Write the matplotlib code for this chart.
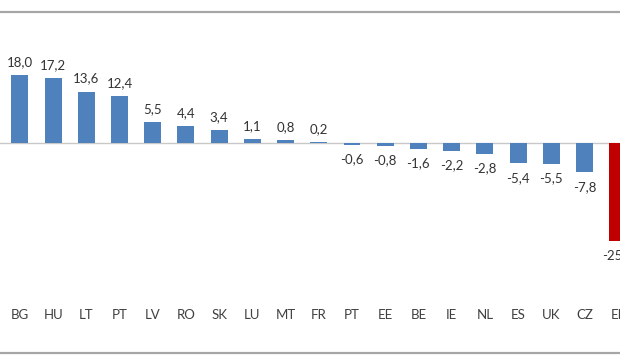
import matplotlib
matplotlib.use("Agg")
import matplotlib.pyplot as plt
from matplotlib.lines import Line2D

# country codes and change values
countries = ["BG", "HU", "LT", "PT", "LV", "RO", "SK", "LU", "MT", "FR",
             "PT", "EE", "BE", "IE", "NL", "ES", "UK", "CZ", "EL"]
values = [18.0, 17.2, 13.6, 12.4, 5.5, 4.4, 3.4, 1.1, 0.8, 0.2,
          -0.6, -0.8, -1.6, -2.2, -2.8, -5.4, -5.5, -7.8, -25.9]
highlight = "EL"

blue = "#4F81BD"
red = "#C00000"

plt.rcParams['font.family'] = ['Lato', 'DejaVu Sans']

fig = plt.figure(figsize=(6.2, 3.6), dpi=100)
ax = fig.add_axes([0, 0, 1, 1])

x = list(range(len(countries)))
colors = [red if c == highlight else blue for c in countries]
ax.bar(x, values, width=0.51, color=colors, zorder=2)

# zero line
ax.axhline(0, color="#C8C8C8", lw=1.0, zorder=1)

# value labels
for xi, v in zip(x, values):
    txt = ("%.1f" % v).replace(".", ",")
    if v >= 0:
        ax.annotate(txt, (xi, v), xytext=(0, 5), textcoords="offset points",
                    ha="center", va="bottom", fontsize=9.5, color="#333333")
    else:
        ax.annotate(txt, (xi, v), xytext=(0, -6), textcoords="offset points",
                    ha="center", va="top", fontsize=9.5, color="#333333")

# category labels
for xi, c in zip(x, countries):
    ax.text(xi, -45.5, c, ha="center", va="center", fontsize=9.5, color="#404040")

ax.set_xlim(-0.6, 18.07)
ax.set_ylim(-57.4, 37.8)
ax.axis("off")

# frame lines (top and bottom of the chart area)
fig.add_artist(Line2D([0, 1], [1 - 12 / 360, 1 - 12 / 360], color="#A6A6A6", lw=1.6))
fig.add_artist(Line2D([0, 1], [7 / 360, 7 / 360], color="#A6A6A6", lw=1.6))

fig.savefig("out.png", dpi=100, facecolor="white")
